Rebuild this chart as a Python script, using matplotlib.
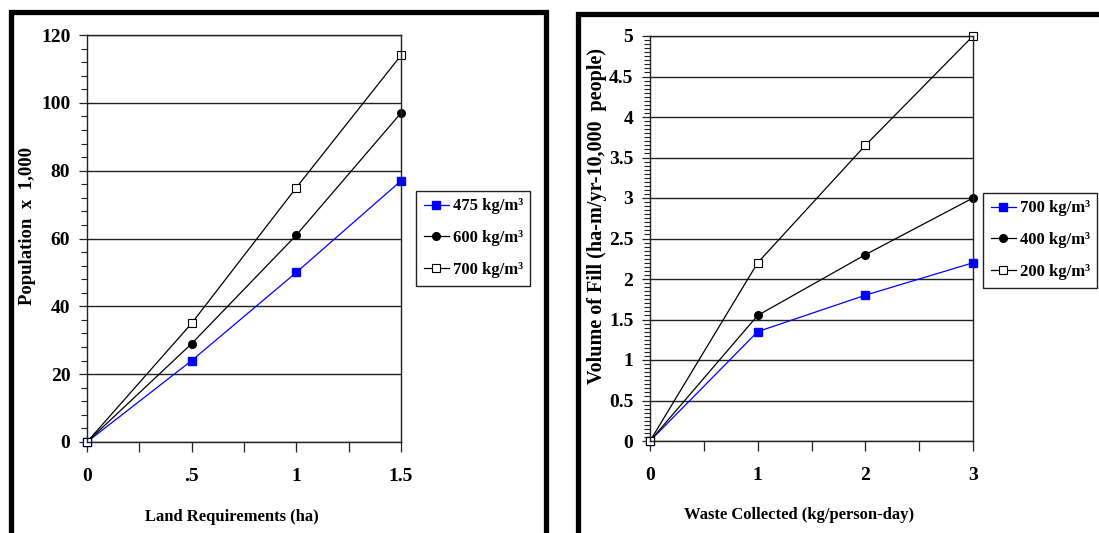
import matplotlib.pyplot as plt
from matplotlib.patches import Rectangle
from matplotlib.ticker import MultipleLocator, FixedLocator, FuncFormatter

plt.rcParams['font.family'] = ['Liberation Serif', 'DejaVu Serif']
plt.rcParams['font.weight'] = 'bold'

# left chart: population served vs land requirement
land_ha = [0, 0.5, 1.0, 1.5]
pop_475 = [0, 24, 50, 77]
pop_600 = [0, 29, 61, 97]
pop_700 = [0, 35, 75, 114]
left_labels = ['475 kg/m³', '600 kg/m³', '700 kg/m³']

# right chart: volume of fill vs waste collected
waste_kg = [0, 1, 2, 3]
vol_700 = [0, 1.35, 1.8, 2.2]
vol_400 = [0, 1.55, 2.3, 3.0]
vol_200 = [0, 2.2, 3.65, 5.0]
right_labels = ['700 kg/m³', '400 kg/m³', '200 kg/m³']

W, H = 1099, 533
fig = plt.figure(figsize=(W / 100, H / 100), dpi=100)


def px(x0, y0, x1, y1):
    # pixel box (top-left origin) -> figure fraction rect
    return [x0 / W, 1 - y1 / H, (x1 - x0) / W, (y1 - y0) / H]


# outer black frames around each panel
fig.patches.append(Rectangle((10.5 / W, -0.1), (545.5 - 10.5) / W, 1.1 - 12 / H,
                             transform=fig.transFigure, fill=False, ec='black', lw=3.8))
fig.patches.append(Rectangle((577.5 / W, -0.1), 0.6, 1.1 - 14 / H,
                             transform=fig.transFigure, fill=False, ec='black', lw=3.8))

styles = [
    dict(color='#0000ff', marker='s', ms=5.5, mfc='#0000ff', mec='#0000ff'),
    dict(color='black', marker='o', ms=5.5, mfc='black', mec='black'),
    dict(color='black', marker='s', ms=5.5, mfc='white', mec='black', mew=0.8),
]


def setup(ax, xmaj, xmin, ymaj, ymin, xlim, ylim):
    ax.set_xlim(*xlim)
    ax.set_ylim(*ylim)
    ax.xaxis.set_major_locator(FixedLocator(xmaj))
    ax.xaxis.set_minor_locator(FixedLocator(xmin))
    ax.yaxis.set_major_locator(MultipleLocator(ymaj))
    ax.yaxis.set_minor_locator(MultipleLocator(ymin))
    ax.yaxis.set_major_formatter(FuncFormatter(lambda v, p: f'{v:g}'))
    for s in ax.spines.values():
        s.set_color('#222222')
        s.set_linewidth(1.0)
    ax.grid(axis='y', which='major', color='#222222', lw=1.0)
    ax.set_axisbelow(True)
    ax.tick_params(axis='x', which='both', direction='out', length=7, width=0.9,
                   pad=12, labelsize=14, color='#222222')
    ax.tick_params(axis='y', which='major', direction='out', length=6, width=0.9,
                   pad=6, labelsize=14, color='#222222')
    ax.tick_params(axis='y', which='minor', direction='out', length=4, width=0.8,
                   color='#222222')


def add_legend(ax, x0, y0):
    ax.legend(loc='upper left', bbox_to_anchor=(x0 / W, 1 - y0 / H),
              bbox_transform=fig.transFigure, fancybox=False, framealpha=1,
              edgecolor='#222222', fontsize=12, handlelength=1.5,
              handletextpad=0.25, borderpad=0.45, borderaxespad=0,
              labelspacing=0.95)


# ---- left panel
ax1 = fig.add_axes(px(87, 35, 401, 442))
for yv, st, lab in zip([pop_475, pop_600, pop_700], styles, left_labels):
    ax1.plot(land_ha, yv, lw=0.9, label=lab, clip_on=False, **st)
setup(ax1, [0, 0.5, 1, 1.5], [0.25, 0.75, 1.25], 20, 4, (0, 1.5), (0, 120))
ax1.set_xticklabels(['0', '.5', '1', '1.5'])
add_legend(ax1, 416, 191)
fig.text(28 / W, 1 - 226 / H, 'Population  x  1,000', rotation=90,
         ha='center', va='center', fontsize=13.5)
fig.text(232 / W, 1 - 517 / H, 'Land Requirements (ha)', ha='center',
         va='center', fontsize=12)

# ---- right panel
ax2 = fig.add_axes(px(650, 36, 973, 441))
for yv, st, lab in zip([vol_700, vol_400, vol_200], styles, right_labels):
    ax2.plot(waste_kg, yv, lw=0.9, label=lab, clip_on=False, **st)
setup(ax2, [0, 1, 2, 3], [0.5, 1.5, 2.5], 0.5, 0.05, (0, 3), (0, 5))
add_legend(ax2, 983, 193)
fig.text(597 / W, 1 - 216 / H, 'Volume of Fill (ha-m/yr-10,000  people)',
         rotation=90, ha='center', va='center', fontsize=14.5)
fig.text(799 / W, 1 - 515 / H, 'Waste Collected (kg/person-day)', ha='center',
         va='center', fontsize=12)

fig.savefig('out.png', dpi=100, facecolor='white')
